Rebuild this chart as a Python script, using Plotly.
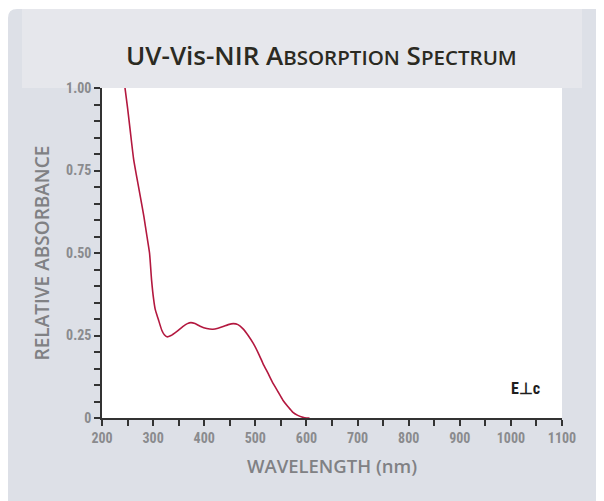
import plotly.graph_objects as go

# Data
wavelength = [245, 250, 255, 262, 268, 275, 282, 288, 293, 297, 301, 304, 310, 317, 322, 327,
              335, 346, 358, 367, 374, 382, 392, 405, 417, 427, 437, 447, 457, 466, 476,
              486, 496, 506, 515, 525, 535, 545, 554, 564, 573, 583, 593, 600, 606]
absorbance = [1.00, 0.94, 0.874, 0.783, 0.73, 0.671, 0.61, 0.55, 0.50, 0.418, 0.36, 0.33, 0.30, 0.266,
              0.252, 0.246, 0.250, 0.262, 0.277, 0.286, 0.289, 0.286, 0.278, 0.271, 0.269,
              0.272, 0.277, 0.283, 0.286, 0.283, 0.270, 0.25, 0.226, 0.196, 0.165, 0.135,
              0.104, 0.078, 0.054, 0.034, 0.018, 0.008, 0.002, 0.0, 0.0]

x_ticks = [200, 300, 400, 500, 600, 700, 800, 900, 1000, 1100]
x_ticktext = [str(v) for v in x_ticks]
y_ticks = [0, 0.25, 0.5, 0.75, 1.0]
y_ticktext = ["0", "0.25", "0.50", "0.75", "1.00"]

W, H = 604, 501
L, R, T, B = 94, 50, 80, 91
PW, PH = W - L - R, H - T - B
PANEL = "#dde0e7"


def px(xp):
    return (xp - L) / PW


def py(yp):
    return (H - B - yp) / PH


fig = go.Figure()
fig.add_trace(go.Scatter(
    x=wavelength, y=absorbance, mode="lines",
    line=dict(color="#b3183f", width=1.6, shape="spline", smoothing=0.6),
    hoverinfo="skip", showlegend=False,
))

shapes = []
# white top row and rounded top-left corner cut-out
shapes.append(dict(type="rect", xref="paper", yref="paper",
                   x0=px(0), x1=px(W), y0=py(1), y1=py(0),
                   fillcolor="white", line=dict(width=0), layer="below"))
r = 9
cx0, cy0 = px(0), py(1)
rx, ry = r / PW, r / PH
corner = (f"M {cx0},{cy0} L {cx0 + rx},{cy0} Q {cx0},{cy0} {cx0},{cy0 - ry} Z")
shapes.append(dict(type="path", xref="paper", yref="paper", path=corner,
                   fillcolor="white", line=dict(width=0), layer="below"))
# lighter top band
shapes.append(dict(type="rect", xref="paper", yref="paper",
                   x0=px(14), x1=px(574), y0=py(80), y1=py(1),
                   fillcolor="#e6e7ec", line=dict(width=0), layer="below"))
# white plot area
shapes.append(dict(type="rect", xref="paper", yref="paper",
                   x0=0, x1=1, y0=0, y1=1,
                   fillcolor="white", line=dict(width=0), layer="below"))

tick_font = dict(family="Liberation Sans Narrow, Roboto Condensed, Roboto, sans-serif",
                 size=14, color="#8a8b8e", weight="bold")
title_family = "Open Sans, Lato, sans-serif"

fig.update_layout(
    width=W, height=H,
    margin=dict(l=L, r=R, t=T, b=B, pad=0),
    paper_bgcolor=PANEL, plot_bgcolor="rgba(0,0,0,0)",
    shapes=shapes,
    xaxis=dict(
        range=[200, 1100], tickvals=x_ticks, ticktext=x_ticktext,
        ticks="outside", ticklen=6, tickwidth=1.6, tickcolor="#333",
        showline=True, linecolor="#333", linewidth=1.6,
        showgrid=False, zeroline=False, tickfont=tick_font,
        minor=dict(dtick=50, tick0=200, ticks="outside", ticklen=6, tickwidth=1.6, tickcolor="#333"),
        title=dict(text="WAVELENGTH (nm)", standoff=15,
                   font=dict(family=title_family, size=18.5, color="#808184", weight=600)),
    ),
    yaxis=dict(
        range=[0, 1.0], tickvals=y_ticks, ticktext=y_ticktext,
        ticks="outside", ticklen=6, tickwidth=1.6, tickcolor="#333",
        showline=True, linecolor="#333", linewidth=1.6,
        showgrid=False, zeroline=False, tickfont=tick_font,
        minor=dict(dtick=0.05, tick0=0, ticks="outside", ticklen=6, tickwidth=1.6, tickcolor="#333"),
        title=dict(text="RELATIVE ABSORBANCE", standoff=11,
                   font=dict(family=title_family, size=19, color="#808184", weight=600)),
    ),
    annotations=[
        dict(xref="paper", yref="paper", x=px(313), y=py(47), xanchor="center", yanchor="middle",
             showarrow=False,
             text="UV-Vis-NIR A<span style='font-size:20.5px'>BSORPTION</span> "
                  "S<span style='font-size:20.5px'>PECTRUM</span>",
             font=dict(family=title_family, size=26, color="#2b2a22", weight=600)),
        dict(xref="paper", yref="paper", x=px(517), y=py(380), xanchor="center", yanchor="middle",
             showarrow=False, text="E⊥c",
             font=dict(family="Liberation Sans Narrow, Roboto Condensed, Roboto, sans-serif", size=16,
                       color="#1f1f1f", weight="bold")),
    ],
)

fig.write_html("out.html")
